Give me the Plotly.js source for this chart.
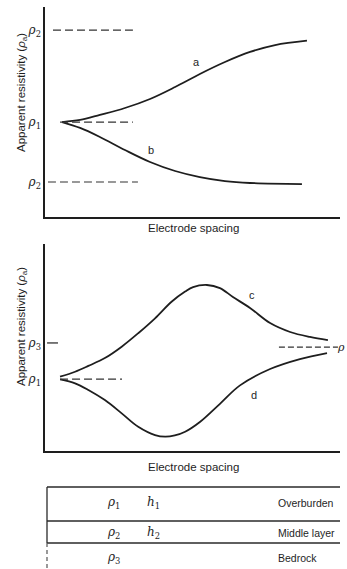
<!DOCTYPE html>
<html><head><meta charset="utf-8">
<script src="https://cdn.plot.ly/plotly-3.0.1.min.js"></script>
<style>html,body{margin:0;padding:0;background:#fff;overflow:hidden}</style>
</head><body><div id="chart" style="width:347px;height:569px"></div>
<script>
// ---------- data ----------
// Panel 1: two-layer cases
const aX = [0.58, 1.19, 1.86, 2.71, 3.56, 4.41, 5.25, 6.10, 6.95, 7.80, 8.88];
const aY = [4.52, 4.62, 4.86, 5.19, 5.62, 6.19, 6.81, 7.38, 7.86, 8.19, 8.40];
const bX = [0.58, 1.19, 1.86, 2.71, 3.56, 4.41, 5.25, 6.10, 6.95, 8.71];
const bY = [4.52, 4.24, 3.81, 3.19, 2.62, 2.19, 1.90, 1.71, 1.62, 1.57];
const p1Levels = [8.90, 4.52, 1.67];
const p1LevelText = ['<i>ρ</i><sub>2</sub>', '<i>ρ</i><sub>1</sub>', '<i>ρ</i><sub>2</sub>'];
const p1RefX0 = [0.27, 0.51, 0.10];
const p1RefX1 = [2.98, 2.98, 3.15];
// Panel 2: three-layer cases
const cX = [0.51, 1.02, 1.47, 2.03, 2.60, 3.16, 3.73, 4.29, 4.75, 5.02, 5.49, 5.93, 6.37, 6.95, 7.63, 8.31, 8.98, 9.59];
const cY = [3.59, 3.83, 4.11, 4.49, 5.04, 5.69, 6.41, 7.21, 7.70, 7.92, 8.02, 7.87, 7.44, 6.91, 6.18, 5.75, 5.51, 5.36];
const dX = [0.51, 1.02, 1.47, 2.03, 2.60, 3.16, 3.73, 4.07, 4.40, 4.75, 5.25, 5.93, 6.61, 7.63, 8.64, 9.56];
const dY = [3.46, 3.27, 2.95, 2.46, 1.82, 1.17, 0.77, 0.69, 0.75, 0.93, 1.40, 2.28, 3.17, 3.96, 4.44, 4.73];
const p2Levels = [5.22, 3.47];
const p2LevelText = ['<i>ρ</i><sub>3</sub>', '<i>ρ</i><sub>1</sub>'];
const p2Rho1Ref = {x: [0.51, 2.61], y: [3.47, 3.47]};
const p2Rho3Tick = {x: [0.07, 0.44], y: [5.22, 5.22]};
const p2Rho3Ref = {x: [7.93, 9.93], y: [5.02, 5.02]};
// Layer table
const layerRho = ['<i>ρ</i><sub>1</sub>', '<i>ρ</i><sub>2</sub>', '<i>ρ</i><sub>3</sub>'];
const layerH = ['<i>h</i><sub>1</sub>', '<i>h</i><sub>2</sub>', ''];
const layerName = ['Overburden', 'Middle layer', 'Bedrock'];

// ---------- layout helpers ----------
const W = 347, H = 569;
const px = p => p / W;
const py = p => 1 - p / H;
const ink = '#1e1e1e';
const font = 'Liberation Sans, Arial, sans-serif';
const serif = 'DejaVu Serif, serif';

const curve = (x, y, xa, ya) => ({x, y, xaxis: xa, yaxis: ya, type: 'scatter', mode: 'lines',
  line: {color: ink, width: 1.8, shape: 'spline', smoothing: 1}, hoverinfo: 'skip', showlegend: false});
const ref = (x, y, xa, ya, dash, w) => ({x, y, xaxis: xa, yaxis: ya, type: 'scatter', mode: 'lines',
  line: {color: '#333', width: w || 1.1, dash}, hoverinfo: 'skip', showlegend: false});

const traces = [
  curve(aX, aY, 'x', 'y'),
  curve(bX, bY, 'x', 'y'),
  curve(cX, cY, 'x2', 'y2'),
  curve(dX, dY, 'x2', 'y2'),
];
p1Levels.forEach((v, i) => traces.push(ref([p1RefX0[i], p1RefX1[i]], [v, v], 'x', 'y', '8px,4px')));
traces.push(ref(p2Rho1Ref.x, p2Rho1Ref.y, 'x2', 'y2', '8px,4px'));
traces.push(ref(p2Rho3Tick.x, p2Rho3Tick.y, 'x2', 'y2', 'solid', 1.3));
traces.push(ref(p2Rho3Ref.x, p2Rho3Ref.y, 'x2', 'y2', '6px,3px'));

const axX = (dom, anchor) => ({domain: dom, anchor, range: [0, 10], showline: true, linecolor: ink, linewidth: 1.6,
  showgrid: false, zeroline: false, showticklabels: false, ticks: '', fixedrange: true});
const axY = (dom, anchor, vals, text) => ({domain: dom, anchor, range: [0, 10], showline: true, linecolor: ink, linewidth: 1.6,
  showgrid: false, zeroline: false, ticks: '', tickvals: vals, ticktext: text,
  tickfont: {family: serif, size: 12, color: ink}, fixedrange: true});

const ann = [];
const txt = (text, x, y, opts) => ann.push(Object.assign({text, x, y, xref: 'paper', yref: 'paper',
  xanchor: 'center', yanchor: 'middle', showarrow: false,
  font: {family: font, size: 11, color: ink}}, opts || {}));

// Axis titles
const tf = {family: font, size: 11.5, color: ink};
txt('Electrode spacing', px(193), py(228), {font: tf});
txt('Electrode spacing', px(193), py(467), {font: tf});
txt('Apparent resistivity (<i>ρ</i><sub>a</sub>)', px(22), py(93), {textangle: -90, font: tf});
txt('Apparent resistivity (<i>ρ</i><sub>a</sub>)', px(22), py(327), {textangle: -90, font: tf});
// Curve labels
const cl = (t, x, y, xa, ya) => ann.push({text: t, x, y, xref: xa, yref: ya, showarrow: false,
  xanchor: 'center', yanchor: 'middle', font: {family: font, size: 11, color: ink}});
cl('a', 5.15, 7.38, 'x', 'y');
cl('b', 3.59, 3.19, 'x', 'y');
cl('c', 7.02, 7.54, 'x2', 'y2');
cl('d', 7.08, 2.71, 'x2', 'y2');
// rho label at the right edge (cut off in the original)
txt('<i>ρ</i>', 1, py(347), {xanchor: 'right', font: {family: serif, size: 11, color: ink}});

// Layer table
const rowY = [503, 533, 558];
layerRho.forEach((t, i) => txt(t, px(113), py(rowY[i]), {font: {family: serif, size: 12, color: ink}}));
layerH.forEach((t, i) => { if (t) txt(t, px(153), py(rowY[i]), {font: {family: serif, size: 12, color: ink}}); });
layerName.forEach((t, i) => txt(t, px(276), py(rowY[i]), {xanchor: 'left', font: {family: font, size: 10.5, color: ink}}));

const shapes = [];
[487, 521, 543].forEach(yy => shapes.push({type: 'line', xref: 'paper', yref: 'paper',
  x0: px(47), x1: px(340), y0: py(yy), y1: py(yy), line: {color: '#2a2a2a', width: 1.3}}));
shapes.push({type: 'line', xref: 'paper', yref: 'paper', x0: px(47), x1: px(47), y0: py(487), y1: py(543),
  line: {color: '#2a2a2a', width: 1.3}});
shapes.push({type: 'line', xref: 'paper', yref: 'paper', x0: px(47), x1: px(47), y0: py(543), y1: py(569),
  line: {color: '#555', width: 1.2, dash: '4px,3px'}});

const layout = {
  width: W, height: H, margin: {l: 0, r: 0, t: 0, b: 0},
  paper_bgcolor: '#fff', plot_bgcolor: 'rgba(0,0,0,0)',
  xaxis: axX([px(45), px(340)], 'y'),
  yaxis: axY([py(217), py(7)], 'x', p1Levels, p1LevelText),
  xaxis2: axX([px(45), px(340)], 'y2'),
  yaxis2: axY([py(451), py(244)], 'x2', p2Levels, p2LevelText),
  annotations: ann, shapes,
};
Plotly.newPlot('chart', traces, layout, {staticPlot: true, displayModeBar: false});
</script></body></html>
